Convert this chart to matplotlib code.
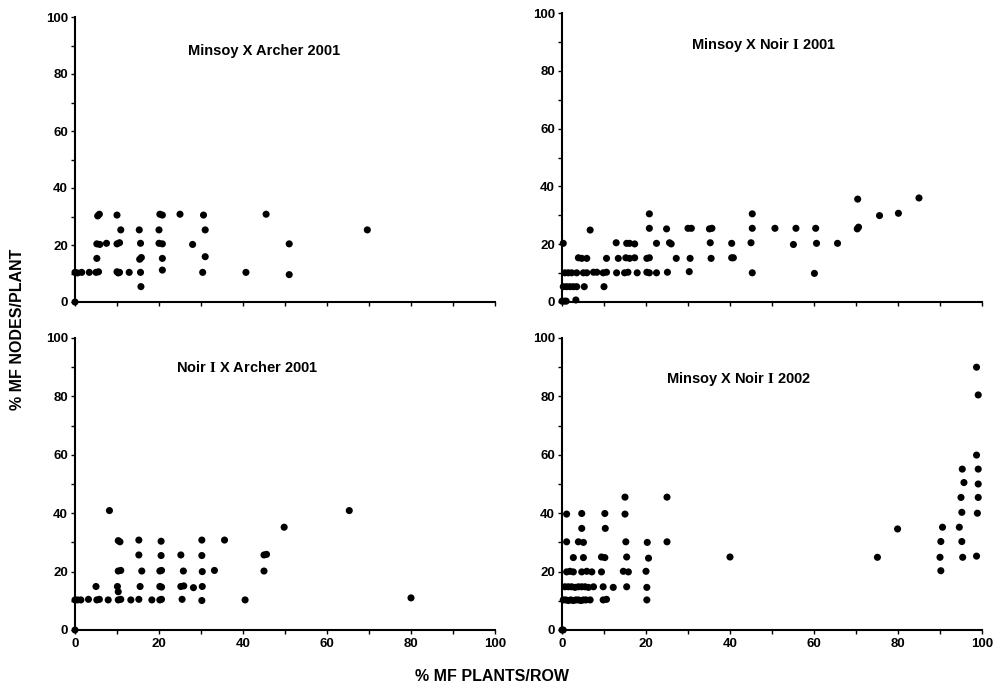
import matplotlib
matplotlib.use("Agg")
import matplotlib.pyplot as plt
from matplotlib.ticker import MultipleLocator

plt.rcParams['font.family'] = ['Liberation Sans', 'DejaVu Sans']
plt.rcParams['font.weight'] = 'bold'
plt.rcParams['mathtext.fontset'] = 'stix'

# Panel A: Minsoy X Archer 2001
a_x = [0, 0, 0.6, 1.6, 3.4, 5.0, 5.6, 10.0, 10.3, 10.6, 12.9, 15.6, 20.8, 30.4, 40.7, 51.0,
       5.2, 5.9, 7.5, 10.0, 10.6, 15.6, 20.0, 20.8, 28.0, 51.0,
       10.9, 15.3, 20.0, 31.0,
       5.4, 5.8, 10.0, 20.2, 20.8, 25.0, 30.6, 45.5,
       69.6,
       5.2, 15.4, 15.8, 20.8, 31.0,
       15.7]
a_y = [0, 10.4, 10.2, 10.4, 10.4, 10.4, 10.6, 10.6, 10.2, 10.4, 10.4, 10.4, 11.2, 10.4, 10.4, 9.6,
       20.4, 20.2, 20.6, 20.4, 20.8, 20.6, 20.6, 20.4, 20.2, 20.4,
       25.3, 25.3, 25.3, 25.3,
       30.2, 30.8, 30.5, 30.8, 30.5, 30.8, 30.5, 30.8,
       25.3,
       15.3, 15.0, 15.6, 15.3, 15.9,
       5.4]

# Panel B: Minsoy X Noir I 2001
b_x = [0.0, 0.5, 1.0, 3.3,
       0.3, 1.1, 1.9, 2.7, 3.5, 5.3, 10.0,
       0.7, 1.5, 2.3, 3.5, 5.1, 5.9, 7.5, 8.3, 9.8, 10.6, 13.0, 14.9, 15.7, 17.9, 20.2, 20.8, 22.5, 25.1, 30.3, 45.3, 60.1,
       3.9, 4.7, 5.9, 10.6, 13.4, 15.2, 16.1, 17.3, 20.2, 20.8, 27.2, 30.5, 35.5, 40.4, 40.8,
       0.3, 12.9, 15.4, 16.1, 17.3, 22.5, 25.6, 26.0, 35.3, 40.4, 45.0, 55.1, 60.6, 65.6,
       6.7, 20.8, 24.9, 30.0, 30.8, 35.1, 35.7, 45.3, 50.7, 55.7, 60.4, 70.3, 70.6,
       20.8, 45.3, 75.6, 80.1,
       70.4, 85.0]
b_y = [0.3, 0.3, 0.3, 0.7,
       5.3, 5.3, 5.3, 5.3, 5.3, 5.3, 5.3,
       10.1, 10.1, 10.1, 10.1, 10.1, 10.1, 10.3, 10.3, 10.1, 10.3, 10.1, 10.1, 10.3, 10.1, 10.3, 10.1, 10.1, 10.3, 10.5, 10.1, 9.9,
       15.3, 15.1, 15.1, 15.1, 15.1, 15.3, 15.1, 15.3, 15.1, 15.3, 15.1, 15.1, 15.1, 15.3, 15.3,
       20.3, 20.5, 20.3, 20.3, 20.1, 20.3, 20.5, 20.1, 20.5, 20.3, 20.5, 19.9, 20.3, 20.3,
       24.9, 25.5, 25.3, 25.5, 25.5, 25.3, 25.5, 25.5, 25.5, 25.5, 25.5, 25.3, 25.9,
       30.5, 30.5, 29.9, 30.7,
       35.6, 36.0]

# Panel C: Noir I X Archer 2001
c_x = [0, 0, 0.6, 1.4, 3.2, 5.2, 5.8, 7.9, 10.3, 10.9, 13.3, 15.2, 18.3, 20.2, 20.6, 25.5, 30.2, 40.5, 80.0,
       5.0, 10.1, 15.5, 20.2, 20.6, 25.2, 25.9, 28.2, 30.3,
       10.3,
       10.3, 10.9, 15.9, 20.2, 20.6, 25.8, 30.3, 33.2, 45.0,
       15.2, 20.5, 25.2, 30.2, 45.0, 45.6,
       10.3, 10.7, 15.2, 20.5, 30.2, 35.6,
       49.8,
       8.2, 65.3]
c_y = [0, 10.3, 10.3, 10.3, 10.5, 10.3, 10.5, 10.3, 10.3, 10.5, 10.3, 10.5, 10.3, 10.3, 10.5, 10.5, 10.1, 10.3, 11.0,
       14.9, 14.9, 14.9, 14.9, 14.7, 14.9, 15.1, 14.5, 14.9,
       13.1,
       20.2, 20.4, 20.2, 20.2, 20.4, 20.2, 20.0, 20.4, 20.2,
       25.7, 25.5, 25.7, 25.5, 25.7, 25.9,
       30.6, 30.2, 30.8, 30.4, 30.8, 30.8,
       35.2,
       40.9, 40.9]

# Panel D: Minsoy X Noir I 2002
d_x = [0, 0.3,
       0.3, 0.9, 1.5, 2.1, 2.7, 3.3, 3.9, 4.5, 5.1, 5.7, 6.7, 9.8, 10.6, 20.2,
       0.7, 1.5, 2.3, 3.1, 3.9, 4.7, 5.5, 6.3, 7.5, 9.8, 12.2, 15.4, 20.2,
       1.1, 1.9, 2.7, 4.7, 5.9, 7.1, 9.4, 14.6, 15.8, 20.0,
       2.7, 5.1, 9.4, 10.2, 15.4, 20.6,
       1.1, 3.9, 5.1, 15.2, 20.3, 25.0,
       4.7, 10.3,
       1.1, 4.7, 10.2, 15.0,
       15.0, 25.0,
       40.0,
       75.1, 90.0, 95.4, 98.7,
       90.2, 90.2, 95.2,
       79.9, 90.6, 94.6,
       95.2, 98.9,
       95.0, 99.1,
       95.7, 99.1,
       95.3, 99.1,
       98.7, 99.1, 98.7]
d_y = [0, 0,
       10.3, 10.3, 10.1, 10.3, 10.1, 10.3, 10.3, 10.1, 10.3, 10.3, 10.3, 10.3, 10.5, 10.3,
       14.8, 14.8, 14.8, 14.6, 14.8, 14.8, 14.8, 14.6, 14.8, 14.8, 14.6, 14.8, 14.6,
       19.9, 20.1, 19.9, 19.9, 20.1, 19.9, 19.9, 20.1, 19.9, 20.1,
       24.8, 24.8, 25.0, 24.8, 25.0, 24.6,
       30.2, 30.2, 30.0, 30.2, 30.0, 30.2,
       34.8, 34.8,
       39.7, 39.9, 39.9, 39.7,
       45.5, 45.5,
       25.0,
       24.9, 24.9, 24.9, 25.3,
       20.3, 30.3, 30.3,
       34.6, 35.2, 35.2,
       40.3, 40.0,
       45.4, 45.4,
       50.5, 50.0,
       55.1, 55.1,
       59.9, 80.5, 90.0]

titles = ["Minsoy X Archer 2001", r"Minsoy X Noir $\mathrm{I}$ 2001",
          r"Noir $\mathrm{I}$ X Archer 2001", r"Minsoy X Noir $\mathrm{I}$ 2002"]
title_pos = [(45, 88), (48, 89), (41, 90), (42, 86)]
xtick_labels = [0, 20, 40, 60, 80, 100]
ytick_labels = [0, 20, 40, 60, 80, 100]

fig = plt.figure(figsize=(9.94, 6.86), dpi=100)
W, H = 994, 686
def box(x0, x1, ytop, ybot):
    return [x0 / W, 1 - ybot / H, (x1 - x0) / W, (ybot - ytop) / H]

rects = [box(75, 495, 17, 302), box(562, 982, 13, 302),
         box(75, 495, 338, 630), box(562, 982, 338, 630)]
data = [(a_x, a_y), (b_x, b_y), (c_x, c_y), (d_x, d_y)]

for i, (r, (xs, ys)) in enumerate(zip(rects, data)):
    ax = fig.add_axes(r)
    ax.scatter(xs, ys, s=26, color='black', edgecolors='none', clip_on=False, zorder=3)
    ax.set_xlim(0, 100)
    ax.set_ylim(0, 100)
    for s in ['top', 'right']:
        ax.spines[s].set_visible(False)
    for s in ['left', 'bottom']:
        ax.spines[s].set_linewidth(1.5)
    ax.set_yticks(ytick_labels)
    ax.set_yticklabels([str(v) for v in ytick_labels], fontsize=9.5, fontweight='bold')
    ax.yaxis.set_minor_locator(MultipleLocator(10))
    ax.set_xticks(xtick_labels)
    ax.xaxis.set_minor_locator(MultipleLocator(10))
    if i >= 2:
        ax.set_xticklabels([str(v) for v in xtick_labels], fontsize=9.5, fontweight='bold')
    else:
        ax.set_xticklabels([])
    ax.tick_params(axis='both', which='both', direction='out', width=1.0, length=3, pad=2)
    ax.tick_params(axis='x', which='major', pad=3)
    ax.text(title_pos[i][0], title_pos[i][1], titles[i], ha='center', va='center',
            fontsize=10.5, fontweight='bold')

fig.text(0.018, 0.52, "% MF NODES/PLANT", rotation=90, ha='center', va='center',
         fontsize=11.5, fontweight='bold')
fig.text(0.495, 0.014, "% MF PLANTS/ROW", ha='center', va='center',
         fontsize=11.5, fontweight='bold')

fig.savefig("out.png", dpi=100)
